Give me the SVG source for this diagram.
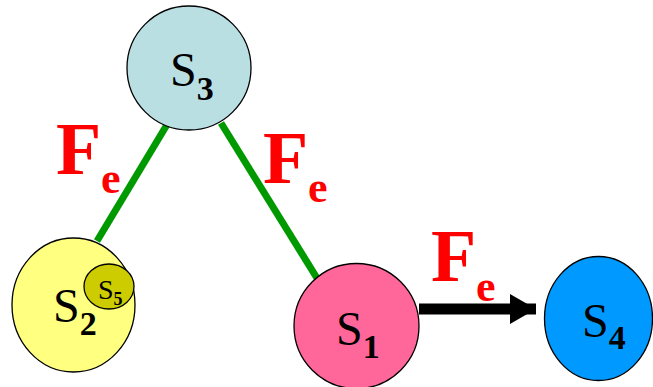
<svg xmlns="http://www.w3.org/2000/svg" width="653" height="387" viewBox="0 0 653 387">
<style>
.node{stroke:#000;stroke-width:1.3}
.lbl{font-family:"Liberation Serif","Times New Roman",serif;fill:#000}
.big{font-size:48px}
.sub{font-size:34px;font-weight:bold}
.f{font-family:"Liberation Serif","Times New Roman",serif;font-weight:bold;fill:#ff0000}
.fF{font-size:74px}
.fe{font-size:44px}
.edge{stroke:#009900;stroke-width:7;fill:none}
</style>
<defs>
<marker id="ah" markerWidth="26" markerHeight="30" refX="26" refY="15" orient="auto" markerUnits="userSpaceOnUse">
<path d="M0,0 L26,15 L0,30 Z" fill="#000"/>
</marker>
</defs>
<g id="connectors">
<line class="edge" x1="168" y1="123" x2="97" y2="241"/>
<line class="edge" x1="221" y1="123" x2="320" y2="283"/>
<line x1="419" y1="309" x2="536" y2="309" stroke="#000" stroke-width="11" marker-end="url(#ah)"/>
</g>
<g id="S3">
<circle class="node" cx="189" cy="68" r="62" fill="#b9dfe3"/>
<text class="lbl" x="170" y="86"><tspan class="big">S</tspan><tspan class="sub" dy="14">3</tspan></text>
</g>
<g id="S2">
<ellipse class="node" cx="73.5" cy="305" rx="61.5" ry="67" fill="#ffff80"/>
<text class="lbl" x="53" y="322"><tspan class="big">S</tspan><tspan class="sub" dy="13">2</tspan></text>
</g>
<g id="S5">
<ellipse class="node" cx="109" cy="286.5" rx="25" ry="22.5" fill="#cccc00"/>
<text class="lbl" x="98" y="299"><tspan style="font-size:28px">S</tspan><tspan style="font-size:18px;font-weight:bold" dy="6">5</tspan></text>
</g>
<g id="S1">
<circle class="node" cx="356.5" cy="326" r="62.5" fill="#ff6699"/>
<text class="lbl" x="336" y="345"><tspan class="big">S</tspan><tspan class="sub" dy="13">1</tspan></text>
</g>
<g id="S4">
<ellipse class="node" cx="598.5" cy="318.5" rx="54" ry="62" fill="#0099ff"/>
<text class="lbl" x="582" y="337"><tspan class="big">S</tspan><tspan class="sub" dy="12">4</tspan></text>
</g>
<g id="labels">
<text class="f fF" x="56" y="174">F</text><text class="f fe" x="101" y="193">e</text>
<text class="f fF" x="263" y="183">F</text><text class="f fe" x="308" y="202">e</text>
<text class="f fF" x="431" y="281">F</text><text class="f fe" x="476" y="301">e</text>
</g>
</svg>
